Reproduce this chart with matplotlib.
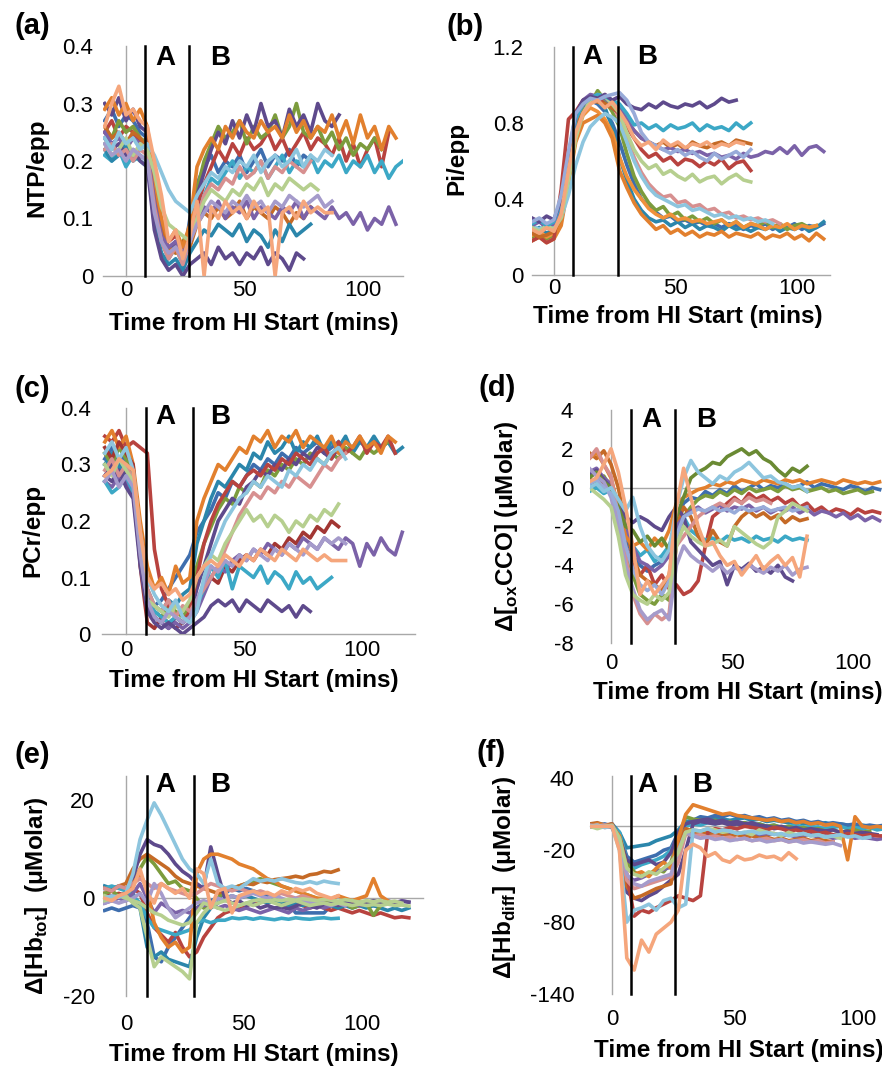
import numpy as np
import matplotlib
matplotlib.use('Agg')
import matplotlib.pyplot as plt

plt.rcParams['font.family'] = ['Liberation Sans', 'DejaVu Sans']
plt.rcParams['mathtext.fontset'] = 'custom'
plt.rcParams['mathtext.rm'] = 'Liberation Sans'
plt.rcParams['mathtext.bf'] = 'Liberation Sans:bold'

W, H = 882, 1070

# sample times (mins from HI start), one reading every 3 min
t_grid = np.arange(-9, 125, 3)

# trace colours
ORANGE = '#E2802E'
ORANGE2 = '#F0913A'
BROWN = '#C56A26'
RED = '#B8433F'
DRED = '#A23633'
GREEN = '#7C9C3D'
DGREEN = '#6A8A33'
PURPLE = '#5E4A8C'
VIOLET = '#7B62A8'
AQUA = '#3CA8C6'
TEAL = '#2B86AB'
BLUE = '#3E6EAE'
LBLUE = '#8DC5DE'
PINK = '#D79090'
LGREEN = '#B6CF8F'
LAVENDER = '#A59BCB'
PERI = '#98ABD9'
SALMON = '#F5A67C'

# ---------------- (a) NTP/epp ----------------
a_orange = [0.29, 0.31, 0.28, 0.30, 0.27, 0.29, 0.26, 0.17, 0.10, 0.06, 0.08, 0.05, 0.09, 0.19, 0.22, 0.24, 0.22, 0.26, 0.24, 0.27, 0.25, 0.24, 0.27, 0.25, 0.26, 0.24, 0.28, 0.25, 0.27, 0.24, 0.26, 0.25, 0.28, 0.24, 0.27, 0.23, 0.28, 0.24, 0.26, 0.22, 0.26, 0.24]
a_purple = [0.30, 0.28, 0.31, 0.27, 0.29, 0.26, 0.25, 0.14, 0.08, 0.04, 0.06, 0.03, 0.07, 0.14, 0.18, 0.22, 0.25, 0.23, 0.27, 0.24, 0.28, 0.25, 0.30, 0.26, 0.27, 0.24, 0.29, 0.26, 0.28, 0.25, 0.30, 0.27, 0.26, 0.28]
a_green = [0.26, 0.24, 0.27, 0.25, 0.26, 0.24, 0.23, 0.13, 0.07, 0.05, 0.04, 0.06, 0.08, 0.15, 0.20, 0.23, 0.26, 0.24, 0.25, 0.27, 0.23, 0.26, 0.24, 0.25, 0.28, 0.24, 0.26, 0.30, 0.25, 0.24, 0.26, 0.23, 0.25, 0.22, 0.24, 0.21, 0.23, 0.22, 0.24, 0.22]
a_red = [0.25, 0.27, 0.24, 0.26, 0.25, 0.23, 0.24, 0.15, 0.09, 0.06, 0.07, 0.05, 0.08, 0.12, 0.16, 0.19, 0.22, 0.20, 0.23, 0.21, 0.24, 0.22, 0.23, 0.25, 0.22, 0.24, 0.21, 0.23, 0.25, 0.22, 0.24, 0.23, 0.21, 0.24, 0.20, 0.23, 0.19, 0.22, 0.24, 0.19, 0.25]
a_aqua = [0.21, 0.20, 0.22, 0.19, 0.21, 0.20, 0.19, 0.12, 0.07, 0.04, 0.05, 0.03, 0.06, 0.10, 0.14, 0.17, 0.16, 0.18, 0.20, 0.17, 0.19, 0.18, 0.20, 0.17, 0.19, 0.21, 0.18, 0.20, 0.19, 0.21, 0.18, 0.20, 0.19, 0.21, 0.18, 0.20, 0.19, 0.21, 0.18, 0.20, 0.17, 0.19, 0.20]
a_blue = [0.27, 0.29, 0.26, 0.28, 0.27, 0.25, 0.24, 0.12, 0.06, 0.03, 0.05, 0.02, 0.10, 0.16, 0.19, 0.21, 0.18, 0.20, 0.19, 0.21, 0.18, 0.20, 0.22, 0.19, 0.21, 0.20, 0.22, 0.19, 0.21, 0.20]
a_brown = [0.26, 0.24, 0.25, 0.23, 0.25, 0.24, 0.22, 0.14, 0.08, 0.05, 0.04, 0.06, 0.05, 0.09, 0.11, 0.10, 0.12, 0.10, 0.11, 0.13, 0.10, 0.12, 0.11, 0.10, 0.12, 0.11, 0.09, 0.11, 0.10, 0.12]
a_violet = [0.25, 0.23, 0.24, 0.22, 0.24, 0.23, 0.22, 0.13, 0.07, 0.05, 0.06, 0.04, 0.06, 0.10, 0.12, 0.11, 0.13, 0.10, 0.12, 0.11, 0.13, 0.10, 0.12, 0.11, 0.10, 0.12, 0.11, 0.13, 0.10, 0.12, 0.11, 0.10, 0.12, 0.10, 0.11, 0.09, 0.11, 0.08, 0.10, 0.09, 0.12, 0.09]
a_teal_low = [0.22, 0.20, 0.21, 0.23, 0.20, 0.21, 0.20, 0.09, 0.04, 0.02, 0.03, 0.01, 0.04, 0.06, 0.08, 0.07, 0.09, 0.08, 0.07, 0.09, 0.06, 0.08, 0.07, 0.05, 0.08, 0.06, 0.09, 0.07, 0.08, 0.09]
a_purple_low = [0.24, 0.22, 0.23, 0.21, 0.22, 0.20, 0.19, 0.08, 0.03, 0.01, 0.02, 0.00, 0.02, 0.03, 0.04, 0.02, 0.05, 0.03, 0.04, 0.02, 0.04, 0.03, 0.05, 0.02, 0.04, 0.03, 0.01, 0.04, 0.03]
a_pink = [0.22, 0.23, 0.21, 0.22, 0.20, 0.22, 0.21, 0.12, 0.06, 0.03, 0.05, 0.02, 0.06, 0.10, 0.14, 0.16, 0.15, 0.17, 0.16, 0.19, 0.17, 0.18, 0.20, 0.17, 0.19, 0.18, 0.20, 0.19, 0.18, 0.20]
a_lgreen = [0.23, 0.21, 0.22, 0.24, 0.21, 0.23, 0.22, 0.18, 0.12, 0.09, 0.08, 0.07, 0.06, 0.10, 0.13, 0.15, 0.14, 0.13, 0.15, 0.14, 0.16, 0.15, 0.17, 0.14, 0.16, 0.15, 0.17, 0.16, 0.15, 0.16, 0.15]
a_lavender = [0.23, 0.21, 0.22, 0.20, 0.22, 0.21, 0.20, 0.11, 0.06, 0.04, 0.05, 0.03, 0.06, 0.09, 0.11, 0.13, 0.12, 0.11, 0.13, 0.12, 0.14, 0.12, 0.13, 0.11, 0.13, 0.12, 0.14, 0.13, 0.12, 0.13, 0.14, 0.12, 0.13]
a_lblue = [0.24, 0.22, 0.25, 0.23, 0.24, 0.22, 0.23, 0.21, 0.18, 0.15, 0.13, 0.12, 0.11, 0.14, 0.16, 0.18, 0.17, 0.19, 0.18, 0.20, 0.19, 0.21, 0.18, 0.20, 0.21, 0.19, 0.20, 0.22, 0.19, 0.21, 0.20, 0.22, 0.21]
a_salmon = [0.26, 0.30, 0.33, 0.28, 0.29, 0.27, 0.26, 0.20, 0.14, 0.06, 0.08, 0.03, 0.07, 0.13, 0.00, 0.12, 0.10, 0.13, 0.11, 0.12, 0.10, 0.13, 0.11, 0.12, 0.00, 0.11, 0.12, 0.10, 0.13, 0.11, 0.12, 0.11, 0.11]

# ---------------- (b) Pi/epp ----------------
b_purple = [0.30, 0.28, 0.31, 0.29, 0.40, 0.62, 0.85, 0.92, 0.94, 0.93, 0.95, 0.92, 0.94, 0.90, 0.88, 0.87, 0.90, 0.88, 0.91, 0.89, 0.88, 0.90, 0.89, 0.91, 0.88, 0.90, 0.93, 0.91, 0.92]
b_aqua = [0.27, 0.29, 0.26, 0.28, 0.38, 0.60, 0.82, 0.90, 0.93, 0.95, 0.94, 0.92, 0.90, 0.85, 0.79, 0.80, 0.77, 0.79, 0.76, 0.79, 0.77, 0.78, 0.80, 0.76, 0.79, 0.77, 0.78, 0.76, 0.80, 0.77, 0.80]
b_brown = [0.22, 0.20, 0.21, 0.23, 0.30, 0.55, 0.80, 0.90, 0.92, 0.91, 0.90, 0.88, 0.86, 0.80, 0.76, 0.72, 0.70, 0.68, 0.70, 0.67, 0.69, 0.66, 0.70, 0.68, 0.67, 0.69, 0.70, 0.68, 0.71, 0.70, 0.69]
b_red = [0.18, 0.20, 0.17, 0.19, 0.45, 0.82, 0.86, 0.92, 0.94, 0.93, 0.90, 0.88, 0.85, 0.78, 0.72, 0.66, 0.62, 0.64, 0.60, 0.62, 0.58, 0.61, 0.60, 0.57, 0.60, 0.58, 0.61, 0.56, 0.59, 0.60, 0.55]
b_violet = [0.26, 0.28, 0.25, 0.27, 0.38, 0.60, 0.82, 0.92, 0.95, 0.94, 0.93, 0.90, 0.88, 0.82, 0.76, 0.72, 0.70, 0.68, 0.66, 0.67, 0.65, 0.66, 0.64, 0.65, 0.63, 0.64, 0.62, 0.63, 0.61, 0.64, 0.62, 0.63, 0.65, 0.64, 0.67, 0.64, 0.68, 0.63, 0.67, 0.68, 0.65]
b_orange = [0.18, 0.20, 0.17, 0.19, 0.26, 0.48, 0.70, 0.80, 0.82, 0.84, 0.80, 0.72, 0.55, 0.46, 0.38, 0.32, 0.28, 0.24, 0.26, 0.22, 0.24, 0.21, 0.23, 0.20, 0.22, 0.21, 0.23, 0.20, 0.22, 0.21, 0.20, 0.22, 0.19, 0.21, 0.20, 0.22, 0.19, 0.21, 0.18, 0.22, 0.19]
b_blue = [0.22, 0.24, 0.21, 0.23, 0.32, 0.58, 0.78, 0.88, 0.92, 0.90, 0.86, 0.80, 0.70, 0.58, 0.48, 0.40, 0.36, 0.33, 0.30, 0.31, 0.28, 0.29, 0.27, 0.28, 0.26, 0.27, 0.25, 0.27, 0.26, 0.24, 0.26, 0.25, 0.27, 0.24, 0.26, 0.25, 0.27, 0.24, 0.26, 0.25, 0.27]
b_green = [0.20, 0.22, 0.19, 0.21, 0.30, 0.55, 0.76, 0.86, 0.90, 0.97, 0.92, 0.86, 0.78, 0.64, 0.52, 0.44, 0.38, 0.34, 0.36, 0.31, 0.33, 0.29, 0.31, 0.28, 0.30, 0.27, 0.29, 0.26, 0.28, 0.25, 0.27, 0.26, 0.28, 0.25, 0.27, 0.24, 0.26, 0.27, 0.25, 0.26]
b_orange2 = [0.21, 0.23, 0.20, 0.22, 0.28, 0.50, 0.72, 0.84, 0.88, 0.86, 0.82, 0.75, 0.62, 0.52, 0.45, 0.40, 0.35, 0.32, 0.30, 0.32, 0.29, 0.30, 0.28, 0.29, 0.27, 0.28, 0.29, 0.26, 0.28, 0.25, 0.27, 0.26, 0.24, 0.26, 0.25, 0.27, 0.24, 0.26, 0.25, 0.26]
b_teal = [0.23, 0.25, 0.22, 0.24, 0.34, 0.60, 0.80, 0.90, 0.93, 0.91, 0.88, 0.78, 0.62, 0.50, 0.40, 0.34, 0.30, 0.28, 0.29, 0.26, 0.28, 0.25, 0.27, 0.24, 0.26, 0.25, 0.23, 0.26, 0.24, 0.25, 0.23, 0.25, 0.24, 0.26, 0.23, 0.25, 0.24, 0.26, 0.23, 0.25, 0.28]
b_pink = [0.24, 0.22, 0.25, 0.23, 0.35, 0.62, 0.82, 0.90, 0.94, 0.92, 0.95, 0.90, 0.82, 0.72, 0.62, 0.54, 0.48, 0.44, 0.41, 0.42, 0.38, 0.39, 0.36, 0.37, 0.34, 0.35, 0.32, 0.33, 0.30, 0.31, 0.29, 0.30, 0.28, 0.29, 0.27]
b_lgreen = [0.25, 0.23, 0.26, 0.24, 0.30, 0.50, 0.72, 0.85, 0.92, 0.95, 0.94, 0.90, 0.85, 0.75, 0.66, 0.60, 0.56, 0.58, 0.53, 0.55, 0.52, 0.50, 0.53, 0.49, 0.51, 0.52, 0.48, 0.51, 0.53, 0.50, 0.49]
b_peri = [0.28, 0.30, 0.27, 0.29, 0.42, 0.65, 0.85, 0.90, 0.93, 0.92, 0.94, 0.95, 0.96, 0.92, 0.85, 0.75, 0.70, 0.68, 0.66, 0.64, 0.66, 0.63, 0.65, 0.62, 0.60, 0.64, 0.61, 0.63, 0.65, 0.62, 0.66]
b_lblue = [0.26, 0.24, 0.27, 0.25, 0.30, 0.42, 0.58, 0.70, 0.78, 0.82, 0.85, 0.83, 0.80, 0.70, 0.60, 0.52, 0.46, 0.42, 0.40, 0.38, 0.36, 0.37, 0.34, 0.35, 0.33, 0.31, 0.32, 0.30, 0.31, 0.29, 0.30, 0.28, 0.29, 0.27]
b_salmon = [0.24, 0.22, 0.25, 0.23, 0.32, 0.55, 0.75, 0.85, 0.90, 0.92, 0.88, 0.91, 0.86, 0.80, 0.72, 0.68, 0.70, 0.66, 0.71, 0.68, 0.70, 0.67, 0.69, 0.68, 0.70, 0.67, 0.69, 0.68, 0.70, 0.69]

# ---------------- (c) PCr/epp ----------------
c_orange = [0.34, 0.36, 0.33, 0.35, 0.30, 0.20, 0.12, 0.08, 0.10, 0.07, 0.12, 0.09, 0.10, 0.20, 0.24, 0.27, 0.30, 0.29, 0.31, 0.33, 0.32, 0.35, 0.34, 0.36, 0.33, 0.35, 0.34, 0.36, 0.33, 0.35, 0.34, 0.33, 0.35, 0.32, 0.34, 0.33, 0.35, 0.33, 0.34, 0.32, 0.35, 0.34]
c_teal = [0.30, 0.32, 0.29, 0.31, 0.27, 0.16, 0.08, 0.05, 0.04, 0.06, 0.05, 0.07, 0.08, 0.16, 0.20, 0.24, 0.27, 0.26, 0.28, 0.30, 0.29, 0.32, 0.31, 0.34, 0.32, 0.33, 0.35, 0.32, 0.34, 0.33, 0.35, 0.32, 0.34, 0.33, 0.35, 0.32, 0.34, 0.33, 0.35, 0.33, 0.34, 0.32, 0.33]
c_red = [0.35, 0.34, 0.36, 0.33, 0.34, 0.33, 0.32, 0.15, 0.08, 0.05, 0.03, 0.02, 0.04, 0.10, 0.16, 0.20, 0.23, 0.25, 0.27, 0.26, 0.28, 0.29, 0.28, 0.30, 0.29, 0.31, 0.30, 0.32, 0.31, 0.30, 0.32, 0.33, 0.31, 0.34, 0.32, 0.33, 0.35, 0.32, 0.34, 0.33, 0.35, 0.32]
c_green = [0.32, 0.30, 0.33, 0.31, 0.28, 0.15, 0.06, 0.04, 0.03, 0.05, 0.04, 0.03, 0.05, 0.12, 0.16, 0.19, 0.22, 0.24, 0.23, 0.26, 0.25, 0.27, 0.26, 0.29, 0.28, 0.30, 0.29, 0.31, 0.30, 0.32, 0.31, 0.30, 0.32, 0.31, 0.33, 0.32, 0.31, 0.33, 0.32, 0.33, 0.34]
c_blue = [0.31, 0.33, 0.30, 0.32, 0.27, 0.14, 0.07, 0.05, 0.06, 0.08, 0.10, 0.12, 0.14, 0.18, 0.20, 0.22, 0.25, 0.24, 0.27, 0.26, 0.28, 0.30, 0.29, 0.31, 0.30, 0.32, 0.31, 0.33, 0.32, 0.33, 0.34, 0.32, 0.33, 0.34]
c_purple = [0.28, 0.30, 0.27, 0.29, 0.26, 0.13, 0.05, 0.03, 0.02, 0.01, 0.03, 0.02, 0.03, 0.08, 0.12, 0.16, 0.20, 0.22, 0.24, 0.23, 0.26, 0.27, 0.29, 0.28, 0.30, 0.29, 0.31, 0.30, 0.32, 0.31, 0.33, 0.32, 0.31, 0.33]
c_dred = [0.33, 0.31, 0.34, 0.32, 0.30, 0.12, 0.02, 0.01, 0.03, 0.02, 0.01, 0.02, 0.03, 0.06, 0.08, 0.10, 0.09, 0.12, 0.11, 0.13, 0.14, 0.13, 0.15, 0.14, 0.16, 0.15, 0.17, 0.16, 0.18, 0.17, 0.19, 0.18, 0.20, 0.19]
c_violet = [0.27, 0.26, 0.28, 0.27, 0.25, 0.13, 0.05, 0.03, 0.02, 0.01, 0.02, 0.01, 0.02, 0.04, 0.07, 0.10, 0.12, 0.11, 0.13, 0.14, 0.13, 0.15, 0.14, 0.16, 0.15, 0.14, 0.16, 0.15, 0.17, 0.16, 0.15, 0.17, 0.16, 0.15, 0.17, 0.16, 0.12, 0.16, 0.14, 0.17, 0.15, 0.14, 0.18]
c_aqua = [0.27, 0.25, 0.26, 0.28, 0.25, 0.14, 0.06, 0.04, 0.03, 0.02, 0.03, 0.02, 0.03, 0.05, 0.08, 0.12, 0.10, 0.13, 0.08, 0.12, 0.11, 0.10, 0.12, 0.09, 0.11, 0.10, 0.08, 0.11, 0.09, 0.10, 0.08, 0.09, 0.10]
c_purple_low = [0.28, 0.27, 0.29, 0.26, 0.24, 0.12, 0.04, 0.02, 0.01, 0.02, 0.01, 0.00, 0.01, 0.02, 0.03, 0.05, 0.06, 0.05, 0.06, 0.04, 0.06, 0.05, 0.04, 0.06, 0.05, 0.04, 0.05, 0.03, 0.05, 0.04]
c_pink = [0.29, 0.31, 0.28, 0.30, 0.27, 0.16, 0.08, 0.05, 0.04, 0.06, 0.03, 0.05, 0.04, 0.06, 0.08, 0.10, 0.12, 0.15, 0.18, 0.21, 0.23, 0.25, 0.24, 0.26, 0.25, 0.27, 0.26, 0.28, 0.27, 0.26, 0.28, 0.30, 0.29, 0.31, 0.32]
c_lgreen = [0.30, 0.28, 0.31, 0.29, 0.27, 0.15, 0.06, 0.05, 0.04, 0.03, 0.05, 0.04, 0.06, 0.10, 0.12, 0.14, 0.13, 0.16, 0.18, 0.20, 0.22, 0.20, 0.21, 0.19, 0.21, 0.20, 0.18, 0.20, 0.19, 0.21, 0.20, 0.22, 0.21, 0.23]
c_lavender = [0.27, 0.29, 0.26, 0.28, 0.26, 0.14, 0.06, 0.03, 0.02, 0.04, 0.03, 0.02, 0.03, 0.06, 0.09, 0.12, 0.11, 0.13, 0.12, 0.14, 0.13, 0.15, 0.14, 0.13, 0.15, 0.14, 0.16, 0.15, 0.14, 0.16, 0.15, 0.17, 0.16, 0.17, 0.16]
c_lblue = [0.32, 0.34, 0.31, 0.33, 0.29, 0.18, 0.10, 0.07, 0.05, 0.04, 0.06, 0.03, 0.02, 0.04, 0.10, 0.14, 0.17, 0.20, 0.22, 0.24, 0.25, 0.27, 0.26, 0.28, 0.27, 0.26, 0.29, 0.28, 0.30, 0.29, 0.31, 0.30, 0.32, 0.33, 0.31]
c_salmon = [0.28, 0.29, 0.31, 0.30, 0.29, 0.18, 0.10, 0.08, 0.09, 0.07, 0.08, 0.06, 0.07, 0.10, 0.12, 0.13, 0.12, 0.14, 0.13, 0.12, 0.14, 0.13, 0.15, 0.14, 0.13, 0.15, 0.14, 0.13, 0.15, 0.14, 0.13, 0.14, 0.13, 0.13, 0.13]

# ---------------- (d) delta oxCCO (uMolar) ----------------
d_dgreen = [0.5, 0.8, 0.3, 0.0, -1.0, -2.0, -2.2, -2.8, -2.5, -3.0, -2.6, -3.2, -1.5, -0.5, 0.5, 0.8, 1.0, 1.3, 1.2, 1.6, 1.8, 2.0, 1.7, 1.9, 1.5, 1.3, 0.9, 0.6, 1.0, 0.8, 1.1]
d_orange = [1.5, 1.8, 1.2, 0.5, -1.0, -2.5, -3.0, -2.8, -3.2, -2.6, -3.0, -2.2, -0.8, -0.5, -0.3, -0.1, 0.0, 0.2, 0.1, 0.3, 0.2, 0.4, 0.3, 0.2, 0.4, 0.3, 0.2, 0.4, 0.3, 0.4, 0.2, 0.3, 0.4, 0.3, 0.2, 0.4, 0.3, 0.2, 0.3, 0.2, 0.3]
d_red = [0.5, 0.0, 0.3, -0.3, -1.5, -3.0, -4.0, -4.5, -4.0, -5.0, -4.5, -5.2, -5.0, -5.5, -5.3, -4.8, -3.0, -1.5, -1.2, -0.8, -0.5, -0.8, -0.3, -0.6, -0.4, -0.7, -0.5, -0.8, -0.6, -1.0, -0.8, -1.2, -1.0, -1.3, -1.1, -1.2, -1.4, -1.1, -1.3, -1.2, -1.3]
d_purple = [0.6, 0.9, 0.4, 0.0, -0.8, -1.5, -1.8, -1.5, -1.7, -2.0, -2.2, -1.5, -1.0, -1.5, -2.8, -3.2, -3.6, -4.0, -3.8, -5.0, -4.0, -4.2, -3.9, -4.3, -4.1, -4.4, -4.0, -4.6, -4.8]
d_green = [0.4, 0.2, 0.6, 0.0, -1.5, -3.0, -4.5, -5.5, -5.8, -6.0, -5.5, -5.8, -3.0, -1.5, -1.0, -0.6, -0.4, -0.5, -0.2, -0.4, -0.1, -0.3, 0.0, -0.2, -0.1, 0.0, -0.2, 0.1, -0.1, 0.0, -0.2, -0.1, 0.0, -0.2, -0.1, -0.3, -0.2, -0.1, -0.3, -0.2]
d_aqua = [-0.2, 0.0, -0.3, -0.1, -1.2, -2.5, -3.0, -3.5, -3.2, -3.8, -3.5, -3.0, -2.0, -1.5, -2.2, -2.5, -2.7, -2.6, -2.8, -2.5, -2.7, -2.6, -2.8, -2.5, -2.7, -2.6, -2.8, -2.5, -2.7, -2.6, -2.7]
d_blue = [0.3, 0.0, 0.2, -0.2, -1.0, -2.5, -3.5, -4.0, -4.3, -4.0, -3.8, -3.2, -1.5, -0.8, -0.5, -0.6, -0.2, -0.4, -0.1, -0.3, 0.1, -0.2, 0.0, 0.2, -0.1, 0.1, 0.0, 0.2, 0.0, 0.1, 0.3, 0.0, 0.2, 0.1, 0.0, -0.1, 0.1, 0.0, -0.2, 0.0, -0.1]
d_brown = [1.8, 1.5, 1.9, 1.2, 0.0, -2.0, -3.5, -4.5, -4.8, -5.0, -5.3, -4.5, -2.0, -1.0, -1.5, -2.5, -3.0, -2.2, -2.8, -3.0, -2.0, -1.5, -1.2, -1.5, -1.3, -1.6, -1.4, -1.8, -1.5, -1.7, -1.6]
d_violet = [0.8, 1.0, 0.5, 0.2, -0.8, -2.0, -3.0, -3.8, -4.0, -4.3, -4.0, -3.5, -2.0, -1.5, -1.2, -1.0, -1.3, -1.1, -0.9, -1.2, -1.0, -1.1, -0.9, -1.2, -1.0, -1.3, -1.1, -1.2, -1.0, -1.3, -1.1, -1.4, -1.2, -1.3, -1.5, -1.3, -1.6, -1.4, -1.7, -1.5, -1.7]
d_pink = [1.5, 2.0, 1.2, 0.6, -1.5, -3.5, -5.5, -6.5, -7.0, -6.5, -6.8, -6.5, -3.0, -2.5, -2.0, -1.5, -1.2, -1.0, -0.8, -1.0, -0.6, -0.8, -0.5, -0.7, -0.6, -0.8]
d_lavender = [1.0, 0.6, 0.3, -0.5, -2.0, -4.0, -5.2, -6.3, -6.8, -6.5, -6.3, -6.8, -4.0, -3.0, -3.5, -3.8, -4.0, -4.3, -4.0, -4.4, -4.1, -4.3, -4.0, -4.2, -4.4, -4.1, -4.3, -4.0, -4.5, -4.2, -4.1]
d_peri = [0.2, 0.4, 0.0, -0.3, -1.2, -3.0, -4.2, -5.0, -5.3, -5.0, -5.5, -4.8, -2.5, -1.5, -1.3, -1.1, -1.2, -1.0, -1.2, -1.1, -1.3, -1.0, -1.2, -1.1, -1.0, -1.2, -1.1, -1.0, -1.2, -1.1, -1.0]
d_lgreen = [0.0, -0.3, -0.6, -1.0, -2.5, -4.5, -5.5, -5.8, -6.0, -5.5, -5.8, -5.4, -3.0, -2.0, -2.5, -2.8, -3.0, -2.9, -2.7, -3.0, -2.0, -2.3, -2.6, -2.9, -3.1, -2.8, -1.5, -1.2, -0.8, -1.0, -1.2]
d_lblue = [0.0, 0.2, -0.2, 0.0, -0.6, -1.2, -0.5, -2.0, -3.0, -3.5, -3.8, -3.2, -1.0, 0.5, 1.4, 0.8, 0.5, 0.2, 0.6, 0.4, 0.8, 1.0, 1.3, 0.9, 0.5, 0.6, 0.3, 0.2, 0.0, 0.1, -0.2]
d_salmon = [0.3, 0.5, 1.2, 2.0, 0.8, -1.0, -3.0, -5.5, -4.8, -5.5, -5.0, -4.5, -1.0, 1.0, -0.5, -2.0, -3.0, -2.8, -3.5, -4.0, -3.8, -4.5, -4.0, -3.5, -4.2, -3.8, -3.5, -4.0, -3.6, -4.6, -2.5]

# ---------------- (e) delta Hb_tot (uMolar) ----------------
e_purple = [-0.5, 0.0, 0.5, 1.0, 4.0, 9.0, 12.0, 11.0, 10.5, 9.0, 7.0, 5.5, 4.5, 3.0, 2.0, 10.5, 5.0, 0.0, -1.0, -0.5, -1.5, -1.0, -2.0, -1.5, -2.0, -1.8, -2.2, -1.6, -1.0, -1.5, -2.0, -1.2, -1.0, -1.5, -1.0, -1.3, -0.8, -1.0, -0.5, -1.0, -0.8, -1.2, -0.6, -0.8]
e_orange = [0.0, -0.5, 0.5, 1.0, 3.0, 5.0, 2.0, -5.0, -8.0, -10.0, -9.0, -11.0, -10.0, 5.0, 8.0, 9.0, 9.0, 8.5, 8.0, 7.0, 6.5, 6.0, 5.0, 4.0, 3.5, 2.5, 2.0, 1.5, 1.0, 0.5, 0.0, 0.0, -0.2, 0.5, 0.0, -0.5, 0.0, 0.5, 4.0, 0.5, -0.5]
e_brown = [2.0, 1.5, 2.5, 3.0, 6.0, 8.0, 9.0, 8.0, 7.0, 6.0, 4.5, 3.5, 3.0, 2.5, 2.0, 1.5, 1.0, 1.5, 2.0, 2.5, 3.0, 2.8, 3.5, 3.2, 3.8, 4.0, 4.2, 4.5, 4.2, 4.8, 5.0, 5.5, 5.3, 5.8]
e_green = [1.0, 1.5, 0.5, 1.0, 3.0, 6.0, 8.5, 7.0, 5.0, 3.0, 3.5, 2.0, 1.5, 0.0, -2.0, -1.0, 0.0, 1.5, 2.0, 2.5, 3.0, 3.5, 4.0, 3.5, 3.0, 2.5, 2.0, 1.5, 1.0, 0.5, 0.0, -0.5, -1.0, -1.5, -1.0, -2.0, -1.5, -1.0, -3.5, -1.5, -1.0, -1.2]
e_blue = [-2.5, -2.0, -2.5, -2.0, -1.5, -2.0, -5.0, -12.0, -13.0, -10.0, -8.0, -6.0, -4.0, -2.0, -1.0, -0.5, 0.0, 1.0, 2.0, 1.5, 2.0, 1.5, 1.0, 0.5, 0.0, -0.5, -1.0, -3.0, -3.0, -3.0, -3.0, -3.0, -1.5, -1.0, -0.5, -1.0, -1.5, -1.0, -1.5]
e_red = [1.0, 0.5, 1.0, 0.5, 2.0, 1.0, -3.0, -6.0, -7.5, -9.0, -7.0, -10.0, -12.0, -11.0, -8.0, -6.0, -4.0, -3.0, -2.5, -2.0, -1.5, -1.0, -0.5, -1.0, -0.5, -1.0, -1.5, -1.0, -1.5, -2.0, -1.5, -2.0, -2.5, -2.0, -2.5, -3.0, -2.5, -3.0, -3.5, -3.0, -3.5, -4.0, -3.8, -4.0]
e_aqua = [2.0, 2.5, 2.0, 1.5, 0.5, -1.0, -4.0, -6.0, -6.5, -7.0, -7.5, -7.0, -6.5, -5.0, -4.5, -5.0, -4.5, -4.5, -4.0, -4.2, -4.0, -4.3, -4.0, -4.2, -4.4, -4.1, -4.3, -4.0, -4.2, -4.3, -4.1, -4.0, -4.2, -4.1]
e_teal = [2.5, 2.0, 2.5, 2.0, 1.0, -2.0, -10.0, -12.0, -11.0, -12.5, -13.0, -13.5, -14.0, -8.0, -4.0, -2.0, -1.0, 0.0, 0.5, 0.0, 0.5, 0.0, -0.5, -1.0, -0.5, -1.0, -1.5, -1.0, -1.5, -1.0, -0.5, -1.0, -1.5, -2.0, -1.5, -2.0, -1.5, -2.0, -1.5, -2.0, -2.5, -2.0, -2.5, -2.0]
e_violet = [-1.0, -0.5, 0.0, -0.5, 1.0, 3.0, 0.0, -3.0, -1.0, -2.0, -3.0, -2.5, -3.0, -2.0, -1.5, -1.0, -2.0, -1.5, -2.0, -2.5, -2.0, -2.5, -3.0, -2.5, -2.0, -2.5, -3.0, -2.0, -2.5, -2.0, -1.5, -2.0, -1.5, -1.0, -1.5, -1.0, -1.5, -1.0, -0.5, -1.0, -0.5, -1.0, -0.5, -0.8]
e_pink = [2.0, 1.5, 2.5, 2.0, 3.0, 4.0, 3.0, 2.0, 3.0, 2.0, 1.5, 1.0, 0.5, 1.0, 2.0, 3.0, 2.5, 2.0, 1.5, 2.0, 1.5, 1.0, 1.5, 1.0, 0.5, 1.0, 0.5, 0.0, 0.5, 0.0, -0.5]
e_lavender = [-1.0, -0.5, -1.0, -0.5, 0.0, 1.0, -1.0, 3.0, 1.0, -2.0, -4.0, -3.0, -2.0, -1.0, -0.5, -1.0, 0.0, -0.5, 0.5, 0.0, 0.5, 1.0, 0.5, 0.0, 0.5, 0.0, -0.5, 0.0, -0.5, -1.0, -0.5, -1.0, -1.5, -1.0, -1.5]
e_sage = [0.5, 0.0, 0.5, 0.0, -0.5, -1.0, -2.0, -3.0, -3.5, -4.5, -5.0, -5.5, -5.0, -3.0, -1.0, -1.5, -2.0, -2.5, -2.0, -1.5, -1.0, -1.5, -1.0, -0.5, -1.0, -1.5, -1.0, -0.5, -1.0, -1.5, -1.2, -1.0, -1.3, -1.0, -1.2, -1.5, -1.2, -1.5, -1.3, -1.5, -1.2, -1.5, -1.4, -1.6]
e_lgreen = [-0.5, 0.0, 0.5, 0.5, -1.0, -2.0, -8.0, -14.0, -12.0, -13.0, -14.0, -15.0, -16.5, -5.0, -3.0, -1.5, -1.0, -0.5, -1.0, -1.5, -1.0, -0.5, -0.3, -0.6, -0.3, -0.5, -0.2, -0.4, -0.1, -0.3, -0.5, -0.2, -0.4, -0.6, -0.3, -0.5, -0.8, -0.5, -0.7, -0.5, -0.8, -0.6, -1.0]
e_lblue = [0.0, 0.5, 0.2, 1.0, 5.0, 12.0, 16.0, 19.5, 17.0, 14.0, 11.0, 8.0, 6.0, 5.0, 3.0, 8.0, 3.0, 2.0, 2.5, 2.0, 3.0, 4.0, 3.5, 3.8, 3.5, 4.0, 3.6, 3.2, 3.0, 3.4, 3.0, 3.5, 3.2, 3.0]
e_salmon = [0.0, -0.5, 0.5, 1.0, 2.0, 6.0, 1.0, -1.0, 3.0, 2.0, 1.0, 2.0, 0.0, 6.0, 5.0, -2.0, 1.5, 2.0, -3.0, 0.5, 1.0, 1.5, 0.8, 1.2, 0.5, 1.5, 1.0, 2.0, 1.5, 2.0, 1.0, 0.5, 0.0, 0.5]

# ---------------- (f) delta Hb_diff (uMolar) ----------------
f_teal = [0, 1, 0, 2, -5, -18, -17, -16, -15, -12, -10, -8, -3, 4, 5, 6, 5, 7, 6, 5, 6, 7, 5, 6, 4, 5, 4, 3, 4, 2, 3, 2, 3, 1, 2, 1, 0, 1, 0, -1, 0]
f_orange = [0, 2, 1, 0, -8, -35, -40, -38, -42, -35, -30, -35, -10, 10, 18, 16, 14, 12, 10, 11, 9, 8, 7, 6, 5, 6, 4, 5, 3, 4, 2, 3, 1, 2, 0, -28, 8, 0, -1, 0, -1]
f_purple = [0, -1, 1, 0, -10, -28, -32, -30, -28, -32, -30, -22, -5, 2, 4, 5, 6, 4, 5, 3, 4, 2, 3, 1, 0, -1, 0, -2, -1, -3, -2, -3, -4, -3, -5, -4, -6, -5, -6, -7]
f_purple_deep = [0, 1, 0, -1, -15, -55, -60, -62, -58, -55, -50, -45, -40, -20, 2, 4, 3, 2, 3, 1, 2, 0, 1, -1, 0, -2, -1, -3, -2, -4, -3, -5, -4]
f_red = [0, -1, 0, 1, -12, -40, -75, -70, -72, -68, -65, -62, -58, -60, -62, -58, -5, -2, -3, -1, -2, 0, -1, -2, -3, -1, -2, -4, -3, -5, -4, -6, -5, -7, -8, -6, -7, -8, -7, -8, -8]
f_green = [0, 1, 0, -1, -8, -30, -38, -42, -40, -36, -38, -30, -10, 8, 6, 5, 4, 5, 3, 4, 2, 3, 1, 2, 0, 1, -1, 0, -2, -1, -3, -2, -4, -3, -5, -4, -3, -5, -4]
f_brown = [2, 3, 1, 2, -12, -50, -60, -58, -55, -52, -50, -48, -15, -2, -4, -6, -5, -7, -6, -8, -7, -9, -8, -10, -9, -11, -10, -12, -11, -10, -12, -11, -12, -13]
f_blue = [0, 1, 2, 0, -6, -25, -30, -28, -26, -24, -20, -18, -5, 2, 5, 8, 7, 9, 8, 10, 8, 9, 7, 8, 6, 7, 5, 6, 4, 5, 3, 4, 2, 3, 2, 1, 2, 0, 1, 0, 1]
f_aqua = [0, 2, 1, 0, -5, -28, -35, -32, -30, -28, -25, -20, -8, 0, 2, 1, 3, 2, 4, 3, 2, 3, 1, 2, 0, 1, -1, 0, 1, -1, 0, -1, -2, -1, 0, -2, -1, -2, -1, -3, -2]
f_violet = [2, 1, 0, 2, -10, -42, -45, -43, -40, -38, -36, -34, -12, -3, -5, -4, -6, -5, -7, -6, -5, -7, -6, -8, -7, -6, -8, -7, -9, -8, -7, -9, -8, -10, -9, -8, -10, -9, -10, -11, -10]
f_pink = [0, 1, -1, 0, -12, -45, -52, -50, -48, -46, -44, -42, -30, -6, -8, -7, -9, -8, -10, -9, -11, -10, -12, -11, -10, -12, -11, -13, -12, -11, -13, -12, -14, -13]
f_lavender = [1, 0, 1, 0, -10, -40, -48, -50, -46, -44, -42, -40, -20, -5, -8, -10, -9, -11, -10, -12, -11, -10, -12, -11, -13, -12, -11, -13, -12, -14, -13, -14, -15, -14, -16]
f_lgreen = [0, -2, 0, 1, -10, -35, -40, -42, -38, -40, -35, -30, -22, -5, -3, -4, -2, -3, -5, -4, -6, -5, -7, -3, -5, -6, -8, -5, -7, -6, -8, -7, -9, -8, -10]
f_lblue = [0, 1, -1, 0, -20, -80, -70, -68, -65, -70, -62, -60, -68, -65, -3, -4, -2, -5, -3, -4, -6, -5, -4, -6, -5, -7, -6, -8, -7, -6, -8, -7, -9, -8, -7, -9, -8, -10, -9]
f_salmon = [0, 0, 0, 0, -20, -110, -120, -95, -105, -90, -85, -80, -70, -20, -15, -18, -25, -22, -28, -30, -25, -28, -27, -24, -26, -25, -28, -22, -27]


def px_axes(fig, x0, y0, x1, y1):
    # axes rectangle given in pixel coordinates of the 882x1070 image
    return fig.add_axes([x0 / W, 1 - y1 / H, (x1 - x0) / W, (y1 - y0) / H])


def ftext(fig, x, y, s, **kw):
    fig.text(x / W, 1 - y / H, s, ha='center', va='center', **kw)


fig = plt.figure(figsize=(W / 100, H / 100), dpi=100)

panels = [
    dict(box=(103, 46, 403, 276), xlim=(-9.7, 117), ylim=(0, 0.4),
         yticks=[0, 0.1, 0.2, 0.3, 0.4], ylabs=['0', '0.1', '0.2', '0.3', '0.4'],
         marks=(8.0, 26.7), ypad=7, xpad=3,
         traces=[(BLUE, a_blue), (RED, a_red), (GREEN, a_green), (PURPLE, a_purple), (AQUA, a_aqua),
                 (BROWN, a_brown), (ORANGE, a_orange), (VIOLET, a_violet), (TEAL, a_teal_low),
                 (PURPLE, a_purple_low), (PINK, a_pink), (LGREEN, a_lgreen), (LAVENDER, a_lavender),
                 (LBLUE, a_lblue), (SALMON, a_salmon)],
         label='(a)', lab_xy=(32, 26), ylab='NTP/epp', ylab_xy=(37, 168), xlab_xy=(254, 323),
         A_xy=(165, 58), B_xy=(220, 58)),
    dict(box=(532, 47, 830, 275), xlim=(-9, 113.6), ylim=(0, 1.2),
         yticks=[0, 0.4, 0.8, 1.2], ylabs=['0', '0.4', '0.8', '1.2'],
         marks=(7.8, 26.3), ypad=6, xpad=2,
         traces=[(BLUE, b_blue), (TEAL, b_teal), (GREEN, b_green), (ORANGE2, b_orange2),
                 (ORANGE, b_orange), (PINK, b_pink), (LBLUE, b_lblue), (RED, b_red), (BROWN, b_brown),
                 (VIOLET, b_violet), (LGREEN, b_lgreen), (AQUA, b_aqua), (PURPLE, b_purple),
                 (PERI, b_peri), (SALMON, b_salmon)],
         label='(b)', lab_xy=(465, 27), ylab='Pi/epp', ylab_xy=(457, 158), xlab_xy=(678, 317),
         A_xy=(592, 57), B_xy=(647, 57)),
    dict(box=(102, 408, 415, 634), xlim=(-10.2, 122.4), ylim=(0, 0.4),
         yticks=[0, 0.1, 0.2, 0.3, 0.4], ylabs=['0', '0.1', '0.2', '0.3', '0.4'],
         marks=(8.5, 28.4), ypad=8, xpad=4,
         traces=[(BLUE, c_blue), (TEAL, c_teal), (GREEN, c_green), (PURPLE, c_purple), (RED, c_red),
                 (ORANGE, c_orange), (DRED, c_dred), (VIOLET, c_violet), (AQUA, c_aqua),
                 (PURPLE, c_purple_low), (PINK, c_pink), (LGREEN, c_lgreen), (LAVENDER, c_lavender),
                 (LBLUE, c_lblue), (SALMON, c_salmon)],
         label='(c)', lab_xy=(32, 389), ylab='PCr/epp', ylab_xy=(33, 530), xlab_xy=(254, 680),
         A_xy=(165, 417), B_xy=(220, 417)),
    dict(box=(590, 410, 882, 643), xlim=(-8.7, 112), ylim=(-8, 4),
         yticks=[-8, -6, -4, -2, 0, 2, 4], ylabs=['-8', '-6', '-4', '-2', '0', '2', '4'],
         marks=(8.3, 26.4), ypad=12, xpad=7,
         traces=[(BLUE, d_blue), (GREEN, d_green), (RED, d_red), (AQUA, d_aqua), (BROWN, d_brown),
                 (VIOLET, d_violet), (PURPLE, d_purple), (ORANGE, d_orange), (DGREEN, d_dgreen),
                 (PINK, d_pink), (LAVENDER, d_lavender), (PERI, d_peri), (LGREEN, d_lgreen),
                 (LBLUE, d_lblue), (SALMON, d_salmon)],
         label='(d)', lab_xy=(497, 388), ylab=r'Δ[$_{\mathbf{ox}}$CCO] (μMolar)', ylab_xy=(507, 526),
         xlab_xy=(738, 692), A_xy=(651, 420), B_xy=(706, 420)),
    dict(box=(103, 776, 423, 996), xlim=(-9.7, 126), ylim=(-20, 25),
         yticks=[-20, 0, 20], ylabs=['-20', '0', '20'],
         marks=(8.9, 28.8), ypad=6, xpad=13,
         traces=[(BLUE, e_blue), (RED, e_red), (TEAL, e_teal), (AQUA, e_aqua), (GREEN, e_green),
                 (BROWN, e_brown), (VIOLET, e_violet), (PURPLE, e_purple), (ORANGE, e_orange),
                 (PINK, e_pink), (LAVENDER, e_lavender), (LGREEN, e_sage), (LGREEN, e_lgreen),
                 (LBLUE, e_lblue), (SALMON, e_salmon)],
         label='(e)', lab_xy=(32, 755), ylab=r'Δ[Hb$_{\mathbf{tot}}$]  (μMolar)', ylab_xy=(37, 896),
         xlab_xy=(254, 1055), A_xy=(165, 785), B_xy=(220, 785)),
    dict(box=(590, 776, 882, 994), xlim=(-9, 110), ylim=(-140, 42),
         yticks=[-140, -80, -20, 40], ylabs=['-140', '-80', '-20', '40'],
         marks=(7.8, 25.7), ypad=11, xpad=11,
         traces=[(TEAL, f_teal), (BLUE, f_blue), (AQUA, f_aqua), (GREEN, f_green), (PURPLE, f_purple),
                 (PURPLE, f_purple_deep), (VIOLET, f_violet), (BROWN, f_brown), (RED, f_red),
                 (ORANGE, f_orange), (PINK, f_pink), (LAVENDER, f_lavender), (LGREEN, f_lgreen),
                 (LBLUE, f_lblue), (SALMON, f_salmon)],
         label='(f)', lab_xy=(491, 753), ylab=r'Δ[Hb$_{\mathbf{diff}}$]  (μMolar)', ylab_xy=(505, 877),
         xlab_xy=(739, 1050), A_xy=(647, 785), B_xy=(702, 785)),
]

for p in panels:
    ax = px_axes(fig, *p['box'])
    for col, vals in p['traces']:
        ax.plot(t_grid[:len(vals)], vals, color=col, lw=2.6, solid_joinstyle='round', zorder=3)
    ax.axhline(0, color='#A8A8A8', lw=1.0, zorder=1, clip_on=False)
    ax.axvline(0, color='#A8A8A8', lw=1.0, zorder=1, clip_on=False)
    for m in p['marks']:
        ax.axvline(m, color='black', lw=1.8, zorder=6, clip_on=False)
    ax.set_xlim(*p['xlim'])
    ax.set_ylim(*p['ylim'])
    ax.set_xticks([0, 50, 100])
    ax.set_xticklabels(['0', '50', '100'])
    ax.set_yticks(p['yticks'])
    ax.set_yticklabels(p['ylabs'])
    ax.tick_params(axis='both', length=0, labelsize=16)
    ax.tick_params(axis='y', pad=p['ypad'])
    ax.tick_params(axis='x', pad=p['xpad'])
    for s in ax.spines.values():
        s.set_visible(False)
    ax.patch.set_alpha(0)

    ftext(fig, *p['lab_xy'], p['label'], fontsize=21, fontweight='bold')
    ftext(fig, *p['ylab_xy'], p['ylab'], fontsize=17.5, fontweight='bold', rotation=90)
    ftext(fig, *p['xlab_xy'], 'Time from HI Start (mins)', fontsize=17.5, fontweight='bold')
    ftext(fig, *p['A_xy'], 'A', fontsize=20, fontweight='bold')
    ftext(fig, *p['B_xy'], 'B', fontsize=20, fontweight='bold')

fig.savefig('out.png', dpi=100)
